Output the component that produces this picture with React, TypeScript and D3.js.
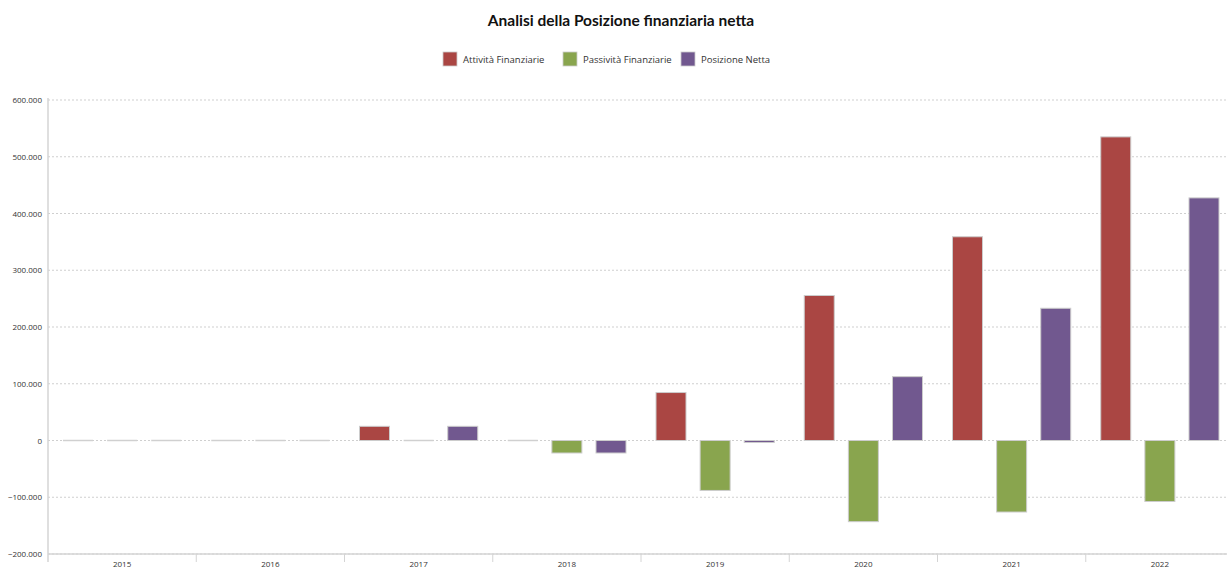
import React from "react";
import * as d3 from "d3";

const years = ["2015", "2016", "2017", "2018", "2019", "2020", "2021", "2022"];
const seriesNames = ["Attività Finanziarie", "Passività Finanziarie", "Posizione Netta"];
const attivita = [0, 0, 25000, 0, 84500, 255500, 359000, 535000];
const passivita = [0, 0, 0, -22000, -88000, -143000, -126000, -107500];
const posizione = [0, 0, 25000, -22000, -3500, 112500, 233000, 427500];
const seriesColors = ["#AA4643", "#89A54E", "#71588F"];
const yTicks = [-200000, -100000, 0, 100000, 200000, 300000, 400000, 500000, 600000];

const W = 1227;
const H = 568;
const PLOT_LEFT = 48;
const PLOT_RIGHT = 1234; // plot runs slightly past the visible edge
const FONT = "'Open Sans', 'DejaVu Sans', sans-serif";
const TITLE_FONT = "Lato, 'Open Sans', sans-serif";

export default function App() {
  const seriesValues = [attivita, passivita, posizione];

  const x0 = d3.scaleBand<string>().domain(years).range([PLOT_LEFT, PLOT_RIGHT]).padding(0);
  const x1 = d3
    .scaleBand<string>()
    .domain(seriesNames)
    .range([0, x0.bandwidth()])
    .paddingInner(0.32)
    .paddingOuter(0.34);
  const y = d3.scaleLinear().domain([-200000, 600000]).range([554, 100]);

  const fmt = (v: number) => d3.format(",")(v).replace(/,/g, ".");

  const legendX = [443, 563, 681];

  return (
    <div style={{ position: "fixed", left: 0, top: 0 }}>
      <svg width={W} height={H} style={{ display: "block", background: "#fff" }}>
        <text
          x={621}
          y={26}
          textAnchor="middle"
          fontFamily={TITLE_FONT}
          fontWeight="bold"
          fontSize={15.5}
          fill="#111"
        >
          Analisi della Posizione finanziaria netta
        </text>

        {seriesNames.map((name, i) => (
          <g key={name} transform={`translate(${legendX[i]},52)`}>
            <rect width={14} height={14} fill={seriesColors[i]} stroke="#ccc" strokeWidth={0.8} />
            <text x={20} y={11} fontFamily={FONT} fontSize={9.5} fill="#333">
              {name}
            </text>
          </g>
        ))}

        {/* horizontal grid */}
        {yTicks.map((t) => (
          <line
            key={t}
            x1={PLOT_LEFT}
            x2={W}
            y1={y(t)}
            y2={y(t)}
            stroke="#cfcfcf"
            strokeWidth={1}
            strokeDasharray="2,2"
          />
        ))}

        {/* y tick labels */}
        {yTicks.map((t) => (
          <text
            key={"l" + t}
            x={42}
            y={y(t) + 3}
            textAnchor="end"
            fontFamily={FONT}
            fontSize={8}
            fill="#333"
          >
            {fmt(t)}
          </text>
        ))}

        {/* axes */}
        <line x1={PLOT_LEFT} x2={PLOT_LEFT} y1={y(600000) - 2} y2={562} stroke="#d4d4d4" strokeWidth={1.5} />
        <line x1={PLOT_LEFT} x2={W} y1={y(-200000)} y2={y(-200000)} stroke="#d4d4d4" strokeWidth={1.5} />
        {years.map((yr) => (
          <line
            key={"t" + yr}
            x1={(x0(yr) as number) + x0.bandwidth()}
            x2={(x0(yr) as number) + x0.bandwidth()}
            y1={y(-200000)}
            y2={562}
            stroke="#d4d4d4"
            strokeWidth={1}
          />
        ))}
        {years.map((yr) => (
          <text
            key={"x" + yr}
            x={(x0(yr) as number) + x0.bandwidth() / 2}
            y={567}
            textAnchor="middle"
            fontFamily={FONT}
            fontSize={8}
            fill="#333"
          >
            {yr}
          </text>
        ))}

        {/* bars */}
        {years.map((yr, yi) => (
          <g key={"b" + yr} transform={`translate(${x0(yr)},0)`}>
            {seriesNames.map((name, si) => {
              const v = seriesValues[si][yi];
              const top = y(Math.max(0, v));
              const bottom = y(Math.min(0, v));
              const bx = x1(name) as number;
              if (bottom - top < 0.5) {
                // empty value: only the bar outline shows along the zero line
                return (
                  <line
                    key={name}
                    x1={bx}
                    x2={bx + x1.bandwidth()}
                    y1={top}
                    y2={top}
                    stroke="#d0d0d0"
                    strokeWidth={1.5}
                  />
                );
              }
              return (
                <rect
                  key={name}
                  x={bx}
                  y={top}
                  width={x1.bandwidth()}
                  height={bottom - top}
                  fill={seriesColors[si]}
                  stroke="#cccccc"
                  strokeWidth={1}
                />
              );
            })}
          </g>
        ))}
      </svg>
    </div>
  );
}
